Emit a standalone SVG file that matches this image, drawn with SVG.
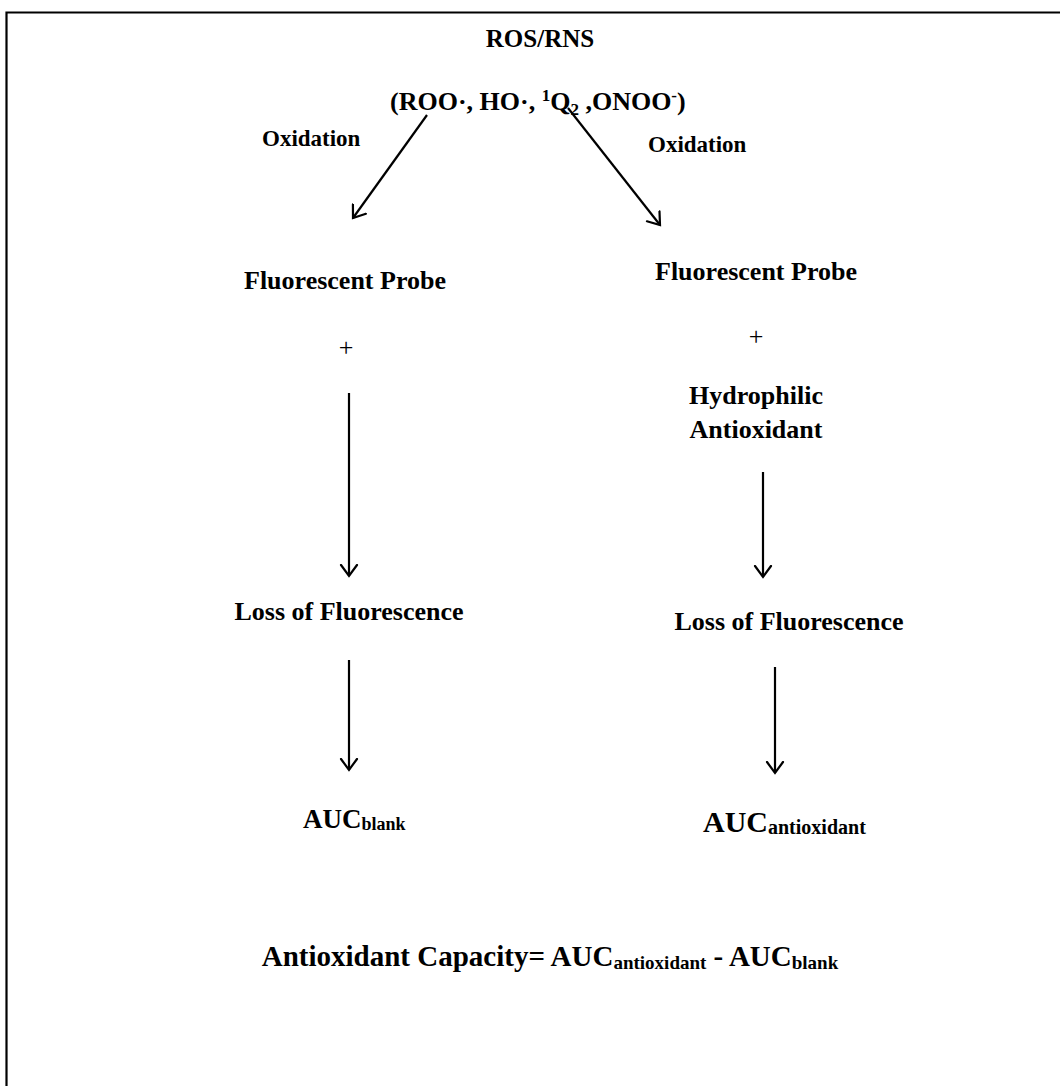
<svg xmlns="http://www.w3.org/2000/svg" width="1060" height="1086" viewBox="0 0 1060 1086">
  <defs>
    <marker id="vhead" markerWidth="24" markerHeight="24" viewBox="-12 -12 24 24" refX="0" refY="0" orient="auto" markerUnits="userSpaceOnUse">
      <path d="M-11,-8 L0,0 L-11,8" fill="none" stroke="#000" stroke-width="2.2" stroke-linecap="round" stroke-linejoin="miter"/>
    </marker>
    <style>
      text { font-family: "Liberation Serif", "Times New Roman", serif; font-weight: bold; fill: #000; }
      .c { text-anchor: middle; }
      .plus { font-weight: normal; }
      .arrow { stroke: #000; stroke-width: 2.2; fill: none; marker-end: url(#vhead); }
    </style>
  </defs>

  <rect width="1060" height="1086" fill="#fff"/>
  <!-- frame -->
  <path d="M6.5,1090 L6.5,12.5 L1064,12.5" fill="none" stroke="#000" stroke-width="2.2"/>

  <g id="source">
    <text class="c" x="540" y="47" font-size="25">ROS/RNS</text>
    <text x="390" y="110" font-size="26">(ROO·, HO·, <tspan font-size="17" dy="-9">1</tspan><tspan dy="9">Q</tspan><tspan font-size="17" dy="5">2</tspan><tspan dy="-5"> ,ONOO</tspan><tspan font-size="17" dy="-9">-</tspan><tspan dy="9">)</tspan></text>
  </g>

  <g id="label-oxidation-left"><text x="262" y="146" font-size="23">Oxidation</text></g>
  <g id="label-oxidation-right"><text x="648" y="152" font-size="23">Oxidation</text></g>

  <g id="probe-left">
    <text class="c" x="345" y="289" font-size="26">Fluorescent Probe</text>
    <text class="c plus" x="346" y="356" font-size="26">+</text>
  </g>

  <g id="probe-right">
    <text class="c" x="756" y="280" font-size="26">Fluorescent Probe</text>
    <text class="c plus" x="756" y="345" font-size="26">+</text>
    <text class="c" x="756" y="404" font-size="26">Hydrophilic</text>
    <text class="c" x="756" y="438" font-size="26">Antioxidant</text>
  </g>

  <g id="loss-left"><text class="c" x="349" y="620" font-size="26">Loss of Fluorescence</text></g>
  <g id="loss-right"><text class="c" x="789" y="630" font-size="26">Loss of Fluorescence</text></g>

  <g id="auc-blank"><text x="303" y="828" font-size="27">AUC<tspan font-size="18" dy="2">blank</tspan></text></g>
  <g id="auc-antioxidant"><text x="703" y="832" font-size="30">AUC<tspan font-size="20" dy="2">antioxidant</tspan></text></g>

  <g id="capacity">
    <text class="c" x="550" y="966" font-size="29">Antioxidant Capacity= AUC<tspan font-size="19" dy="3">antioxidant</tspan><tspan dy="-3"> - AUC</tspan><tspan font-size="19" dy="3">blank</tspan></text>
  </g>

  <g id="connectors">
    <line class="arrow" x1="427" y1="115" x2="353" y2="218"/>
    <line class="arrow" x1="568" y1="108" x2="660" y2="225"/>
    <line class="arrow" x1="349" y1="393" x2="349" y2="576"/>
    <line class="arrow" x1="763" y1="472" x2="763" y2="577"/>
    <line class="arrow" x1="349" y1="660" x2="349" y2="770"/>
    <line class="arrow" x1="775" y1="667" x2="775" y2="773"/>
  </g>
</svg>
